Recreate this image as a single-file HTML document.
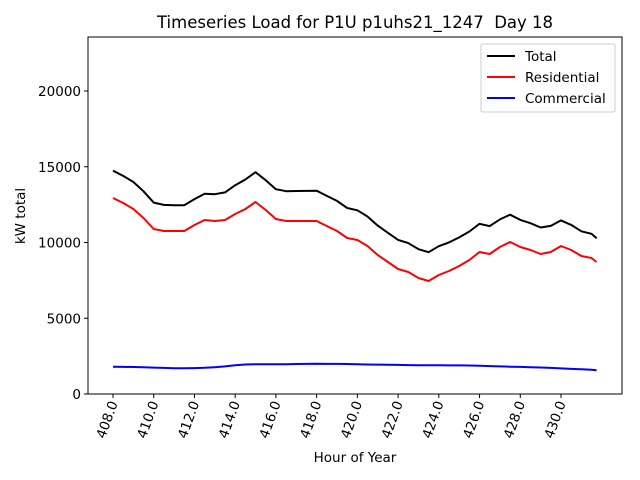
<!DOCTYPE html>
<html><head><meta charset="utf-8"><style>
body{margin:0;background:#fff}
svg{display:block;font-family:"DejaVu Sans","Liberation Sans",sans-serif}
</style></head><body>
<svg id="chart" width="640" height="480" viewBox="0 0 640 480">
<rect width="640" height="480" fill="#fff"/>
<text x="355" y="28" font-size="16.5" text-anchor="middle" style="white-space:pre">Timeseries Load for P1U p1uhs21_1247  Day 18</text>
<text x="355" y="462" font-size="13.5" text-anchor="middle">Hour of Year</text>
<text transform="translate(25,216) rotate(-90)" font-size="13.5" text-anchor="middle">kW total</text>
<g id="grid"></g>
<g id="series"></g>
<rect x="88" y="37" width="534" height="357" fill="none" stroke="#000" stroke-width="1"/>
<g id="legend">
<rect x="481" y="44" width="134" height="68" fill="#fff" stroke="#ccc" rx="2"/>
<line x1="487" y1="56" x2="515" y2="56" stroke="#000" stroke-width="2"/>
<text x="525" y="61" font-size="13.5">Total</text>
<line x1="487" y1="77" x2="515" y2="77" stroke="#f00" stroke-width="2"/>
<text x="525" y="82" font-size="13.5">Residential</text>
<line x1="487" y1="98" x2="515" y2="98" stroke="#00f" stroke-width="2"/>
<text x="525" y="103" font-size="13.5">Commercial</text>
</g>
</svg>
<script>
const hours=[408,408.5,409,409.5,410,410.5,411,411.5,412,412.5,413,413.5,414,414.5,415,415.5,416,416.5,417,417.5,418,418.5,419,419.5,420,420.5,421,421.5,422,422.5,423,423.5,424,424.5,425,425.5,426,426.5,427,427.5,428,428.5,429,429.5,430,430.5,431,431.5,431.75];
const residential=[12937,12607,12211,11617,10891,10759,10759,10759,11155,11485,11419,11485,11881,12211,12673,12145,11551,11419,11419,11419,11419,11089,10759,10297,10165,9769,9175,8713,8251,8053,7657,7459,7855,8119,8449,8845,9373,9241,9703,10033,9703,9505,9241,9373,9769,9505,9109,8977,8713];
const commercial=[1800,1790,1780,1760,1740,1720,1700,1700,1710,1730,1770,1820,1900,1950,1970,1970,1970,1970,1980,1990,2000,1990,1990,1980,1960,1950,1940,1930,1920,1910,1900,1900,1900,1890,1890,1880,1860,1840,1820,1800,1790,1770,1750,1720,1690,1660,1630,1600,1570];
const total=[14737,14397,13991,13377,12631,12479,12459,12459,12865,13215,13189,13305,13781,14161,14643,14115,13521,13389,13399,13409,13419,13079,12749,12277,12125,11719,11115,10643,10171,9963,9557,9359,9755,10009,10339,10725,11233,11081,11523,11833,11493,11275,10991,11093,11459,11165,10739,10577,10283];
const xTicks=[408,410,412,414,416,418,420,422,424,426,428,430];
const yTicks=[0,5000,10000,15000,20000];
const X=h=>113+(h-408)*(448/22);
const Y=v=>394-v*0.01515;
const NS="http://www.w3.org/2000/svg";
const svg=document.getElementById('chart');
const grid=document.getElementById('grid');
const ser=document.getElementById('series');
function mk(t,a){const e=document.createElementNS(NS,t);for(const k in a)e.setAttribute(k,a[k]);return e;}
xTicks.forEach(t=>{
  const l=mk('line',{x1:X(t),x2:X(t),y1:394,y2:398,stroke:'#000'});
  
  
  grid.appendChild(l);
  const tx=mk('text',{'font-size':'13.5','text-anchor':'end',transform:`translate(${X(t)+5},403) rotate(-70)`});
  tx.textContent=t.toFixed(1);
  
  
  grid.appendChild(tx);
});
yTicks.forEach(t=>{
  const l=mk('line',{x1:84,x2:88,y1:Y(t),y2:Y(t),stroke:'#000'});
  
  
  grid.appendChild(l);
  const tx=mk('text',{x:81,y:Y(t)+5,'font-size':'13.5','text-anchor':'end'});
  tx.textContent=t;
  
  
  grid.appendChild(tx);
});
function line(vals,color,name){
  const d=vals.map((v,i)=>(i?'L':'M')+X(hours[i]).toFixed(1)+','+Y(v).toFixed(1)).join('');
  const p=mk('path',{d:d,fill:'none',stroke:color,'stroke-width':'2','stroke-linejoin':'round'});
  
  
  ser.appendChild(p);
}
line(total,'#000','total-line');
line(residential,'#f00','residential-line');
line(commercial,'#00f','commercial-line');
</script>
</body></html>
